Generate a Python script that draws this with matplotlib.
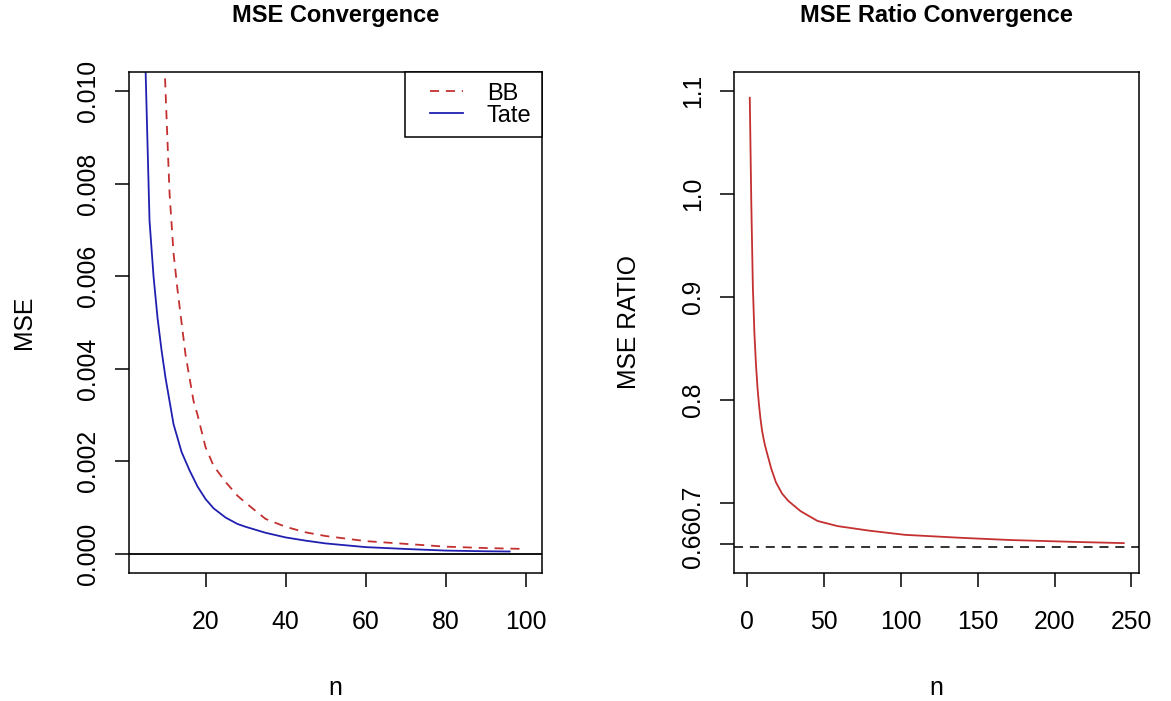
import matplotlib
matplotlib.use('Agg')
import matplotlib.pyplot as plt
from matplotlib.legend_handler import HandlerLine2D

plt.rcParams['font.family'] = ['Liberation Sans', 'DejaVu Sans']

# values
n_bb = [5, 6, 7, 8, 9, 10, 11, 12, 13, 14, 15, 16, 17, 18, 20, 22, 25, 28, 30,
        35, 40, 45, 50, 60, 70, 80, 90, 100]
mse_bb = [0.040, 0.028, 0.020, 0.0155, 0.0123, 0.0100, 0.0078, 0.0065, 0.0057,
          0.0050, 0.0043, 0.0038, 0.0033, 0.0030, 0.0023, 0.0019, 0.00155,
          0.00125, 0.0011, 0.00075, 0.00058, 0.00046, 0.00038, 0.00027,
          0.00021, 0.00015, 0.00012, 0.0001]

n_tate = [5, 6, 7, 8, 9, 10, 11, 12, 13, 14, 15, 16, 18, 20, 22, 25, 28, 30,
          35, 40, 45, 50, 55, 60, 70, 80, 90, 96]
mse_tate = [0.0105, 0.0072, 0.0060, 0.0051, 0.0044, 0.0038, 0.0033, 0.0028,
            0.0025, 0.0022, 0.0020, 0.0018, 0.00145, 0.00118, 0.00098, 0.00078,
            0.00064, 0.00058, 0.00045, 0.00035, 0.00028, 0.00022, 0.00018,
            0.00014, 0.0001, 0.000065, 0.00005, 0.000045]

n_ratio = [2, 3, 4, 5, 6, 7, 8, 9, 10, 11, 12, 14, 16, 19, 23, 27, 35, 46, 59,
           80, 103, 141, 171, 217, 245]
mse_ratio = [1.093, 0.99, 0.91, 0.865, 0.835, 0.812, 0.795, 0.781, 0.770,
             0.762, 0.755, 0.744, 0.733, 0.720, 0.709, 0.702, 0.692, 0.6825,
             0.6775, 0.673, 0.669, 0.666, 0.664, 0.662, 0.661]
ratio_limit = 0.657

left_xticks = [20, 40, 60, 80, 100]
left_yticks = [0.000, 0.002, 0.004, 0.006, 0.008, 0.010]
left_ylabels = ['0.000', '0.002', '0.004', '0.006', '0.008', '0.010']
right_xticks = [0, 50, 100, 150, 200, 250]
right_yticks = [0.66, 0.7, 0.8, 0.9, 1.0, 1.1]
right_ylabels = ['0.66', '0.7', '0.8', '0.9', '1.0', '1.1']

red = '#C43030'
blue = '#2020B0'
fs = 17.8


# legend line drawn only in the right part of the handle box (R-like spacing)
class ShiftedLine(HandlerLine2D):
    def get_xdata(self, legend, xdescent, ydescent, width, height, fontsize):
        x0 = -xdescent + 0.3 * width
        x1 = -xdescent + width
        return [x0, x1], [x0, x1]


fig = plt.figure(figsize=(11.71, 7.01), dpi=100)
ax1 = fig.add_axes([129 / 1171, 1 - 573 / 701, 413 / 1171, 501 / 701])
ax2 = fig.add_axes([734 / 1171, 1 - 573 / 701, 405 / 1171, 501 / 701])


def style_axes(ax):
    for s in ax.spines.values():
        s.set_linewidth(1.1)
    ax.tick_params(direction='out', length=10, width=1.1, labelsize=fs,
                   colors='black')
    ax.tick_params(axis='x', pad=16.5)
    ax.tick_params(axis='y', pad=11, labelrotation=90)
    for lab in ax.get_yticklabels():
        lab.set_va('center')


# left panel
ax1.plot(n_bb, mse_bb, color=red, lw=1.3, ls=(0, (5, 3.8)), label='BB')
ax1.plot(n_tate, mse_tate, color=blue, lw=1.3, label='Tate')
ax1.axhline(0, color='black', lw=1.3)
ax1.set_xlim(0.87, 104.07)
ax1.set_ylim(-0.00042, 0.01042)
ax1.set_xticks(left_xticks)
ax1.set_yticks(left_yticks)
ax1.set_yticklabels(left_ylabels)
style_axes(ax1)
ax1.set_title('MSE Convergence', fontsize=17, fontweight='bold', pad=36)
ax1.set_xlabel('n', fontsize=fs)
ax1.set_ylabel('MSE', fontsize=fs)
ax1.xaxis.set_label_coords(0.5, -0.205)
ax1.yaxis.set_label_coords(-0.225, 0.5)
leg = ax1.legend(loc='upper right', borderaxespad=0, fancybox=False,
                 edgecolor='black', framealpha=1, fontsize=17,
                 handlelength=2.0, handletextpad=1.0, labelspacing=0.0,
                 borderpad=0.45,
                 handler_map={plt.Line2D: ShiftedLine()})
leg.get_frame().set_linewidth(1.1)

# right panel
ax2.plot(n_ratio, mse_ratio, color=red, lw=1.3)
ax2.axhline(ratio_limit, color='#222222', lw=1.3, ls=(0, (5, 3.8)))
ax2.set_xlim(-8.25, 254.9)
ax2.set_ylim(0.632, 1.118)
ax2.set_xticks(right_xticks)
ax2.set_yticks(right_yticks)
ax2.set_yticklabels(right_ylabels)
style_axes(ax2)
ax2.set_title('MSE Ratio Convergence', fontsize=17, fontweight='bold', pad=36)
ax2.set_xlabel('n', fontsize=fs)
ax2.set_ylabel('MSE RATIO', fontsize=fs)
ax2.xaxis.set_label_coords(0.5, -0.205)
ax2.yaxis.set_label_coords(-0.23, 0.5)

fig.savefig('out.png', dpi=100)
